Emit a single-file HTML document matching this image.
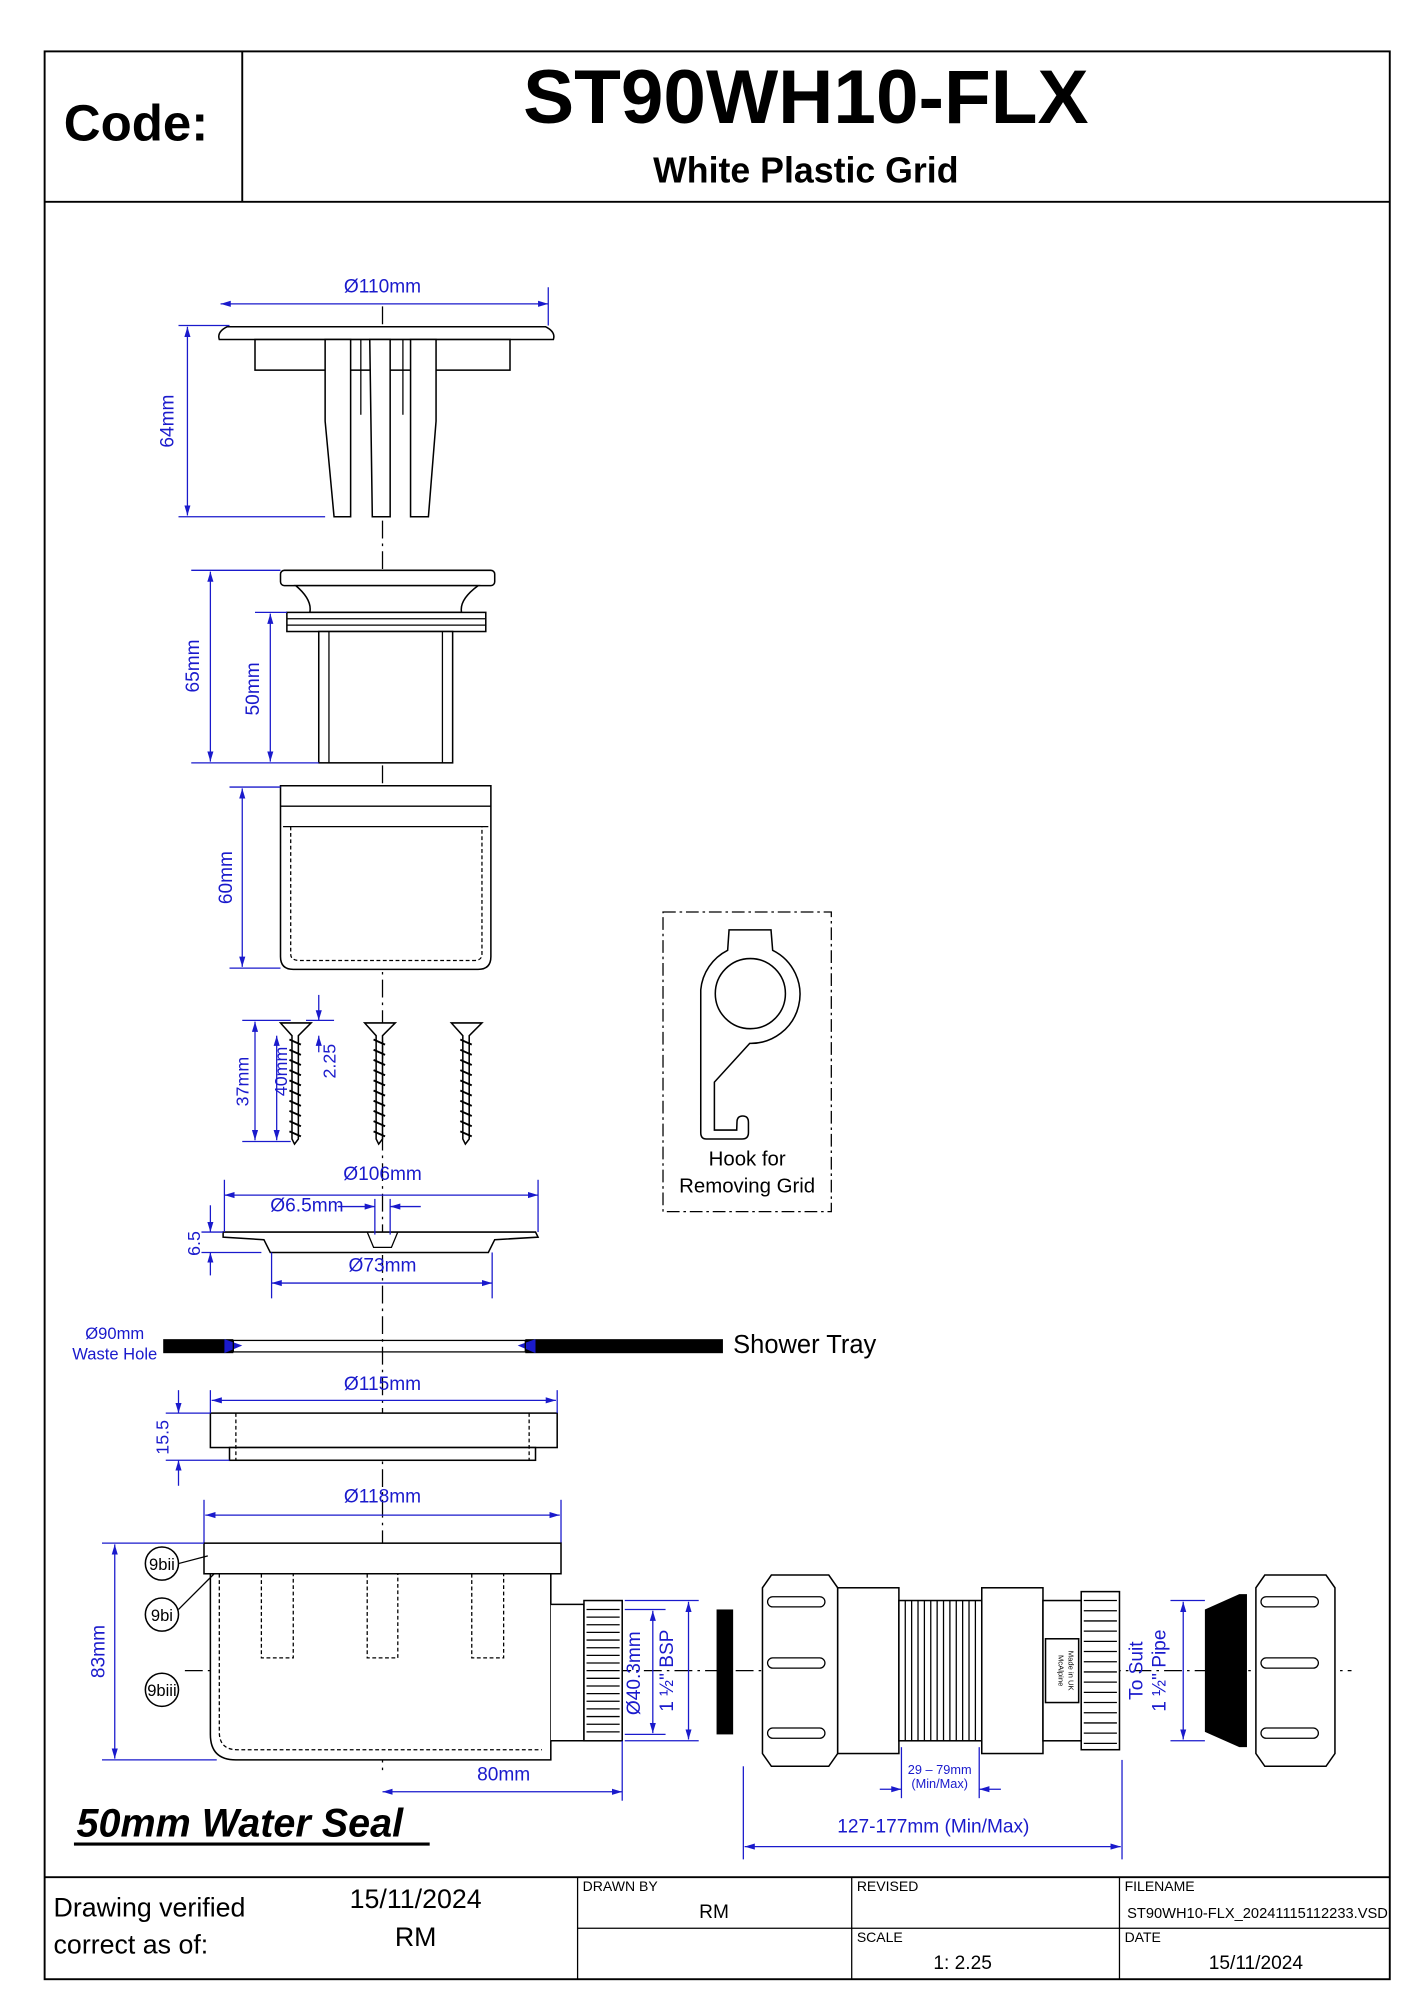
<!DOCTYPE html>
<html><head><meta charset="utf-8"><style>
html,body{margin:0;padding:0;background:#fff}
svg{display:block}
text{font-family:"Liberation Sans",Arial,sans-serif}
.b{fill:#1a1acc}
.dl{stroke:#1a1acc;stroke-width:1;fill:none}
.k{stroke:#000;fill:#fff;stroke-width:1.2}
.kn{stroke:#000;fill:none;stroke-width:1}
</style></head><body>
<svg width="1414" height="2000" viewBox="0 0 1109 1568" xmlns="http://www.w3.org/2000/svg">
<defs>
<marker id="a" viewBox="0 0 10 10" refX="10" refY="5" markerWidth="8" markerHeight="8" orient="auto-start-reverse"><path d="M0,2 L10,5 L0,8 z" fill="#1a1acc"/></marker>
</defs>
<rect x="0" y="0" width="1109" height="1568" fill="#fff"/>
<rect x="35" y="40" width="1055" height="1512" fill="none" stroke="#000" stroke-width="1.5"/>
<line x1="35" y1="158" x2="1090" y2="158" stroke="#000" stroke-width="1.5"/>
<line x1="190" y1="40" x2="190" y2="158" stroke="#000" stroke-width="1.5"/>
<text x="50" y="110" font-size="40" font-weight="bold">Code:</text>
<text x="632" y="96" font-size="60" font-weight="bold" text-anchor="middle">ST90WH10-FLX</text>
<text x="632" y="143" font-size="28" font-weight="bold" text-anchor="middle">White Plastic Grid</text>

<!-- centre line -->
<line x1="300" y1="240" x2="300" y2="1390" stroke="#000" stroke-width="1" stroke-dasharray="14,4,2,4"/>
<line x1="145" y1="1310" x2="1060" y2="1310" stroke="#000" stroke-width="1" stroke-dasharray="14,4,2,4"/>

<!-- grid -->
<path class="k" d="M178,256 L428,256 Q436,260 434,266 L172,266 Q170,260 178,256 z"/>
<rect class="k" x="200" y="266" width="200" height="24"/>
<path class="k" d="M255,266 L275,266 L275,405 L262,405 L255,330 z"/>
<path class="k" d="M290,266 L306,266 L306,405 L292,405 z"/>
<path class="k" d="M322,266 L342,266 L342,330 L336,405 L322,405 z"/>
<line class="kn" x1="283" y1="266" x2="283" y2="325"/><line class="kn" x1="316" y1="266" x2="316" y2="325"/>
<line class="dl" x1="173" y1="238" x2="430" y2="238" marker-start="url(#a)" marker-end="url(#a)"/>
<line class="dl" x1="430" y1="225" x2="430" y2="255"/>
<text class="b" x="300" y="229" font-size="15" text-anchor="middle">Ø110mm</text>
<line class="dl" x1="140" y1="255" x2="180" y2="255"/><line class="dl" x1="140" y1="405" x2="255" y2="405"/>
<line class="dl" x1="147" y1="256" x2="147" y2="404" marker-start="url(#a)" marker-end="url(#a)"/>
<text class="b" font-size="15" transform="translate(136,330) rotate(-90)" text-anchor="middle">64mm</text>

<!-- waste body -->
<rect class="k" x="220" y="447" width="168" height="12" rx="3"/>
<path class="k" d="M232,459 L375,459 Q360,470 362,480 L243,480 Q245,470 232,459 z"/>
<rect class="k" x="225" y="480" width="156" height="15"/>
<line class="kn" x1="225" y1="485" x2="381" y2="485"/><line class="kn" x1="225" y1="490" x2="381" y2="490"/>
<rect class="k" x="250" y="495" width="105" height="103"/>
<line class="kn" x1="258" y1="495" x2="258" y2="598"/><line class="kn" x1="347" y1="495" x2="347" y2="598"/>
<line class="dl" x1="150" y1="447" x2="220" y2="447"/><line class="dl" x1="150" y1="598" x2="250" y2="598"/>
<line class="dl" x1="165" y1="448" x2="165" y2="597" marker-start="url(#a)" marker-end="url(#a)"/>
<text class="b" font-size="15" transform="translate(156,522) rotate(-90)" text-anchor="middle">65mm</text>
<line class="dl" x1="200" y1="480" x2="225" y2="480"/>
<line class="dl" x1="212" y1="481" x2="212" y2="597" marker-start="url(#a)" marker-end="url(#a)"/>
<text class="b" font-size="15" transform="translate(203,540) rotate(-90)" text-anchor="middle">50mm</text>

<!-- sleeve -->
<path class="k" d="M220,616 L385,616 L385,750 Q385,760 375,760 L230,760 Q220,760 220,750 z"/>
<line class="kn" x1="220" y1="632" x2="385" y2="632"/><line class="kn" x1="222" y1="648" x2="383" y2="648"/>
<path class="kn" d="M228,648 L228,748 Q228,753 235,753 L372,753 Q378,753 378,748 L378,648" stroke-dasharray="3,2"/>
<line class="dl" x1="180" y1="617" x2="220" y2="617"/><line class="dl" x1="180" y1="759" x2="220" y2="759"/>
<line class="dl" x1="190" y1="618" x2="190" y2="758" marker-start="url(#a)" marker-end="url(#a)"/>
<text class="b" font-size="15" transform="translate(182,688) rotate(-90)" text-anchor="middle">60mm</text>

<!-- screws -->
<g class="k">
<path d="M220,802 L244,802 L234,812 L234,893 L231,897 L229,893 L229,812 z"/>
<path d="M286,802 L310,802 L300,812 L300,893 L297,897 L295,893 L295,812 z"/>
<path d="M354,802 L378,802 L368,812 L368,893 L365,897 L363,893 L363,812 z"/>
</g>
<g stroke="#000" stroke-width="1.5">
<path d="M227,815 l9,4 m-9,4 l9,4 m-9,4 l9,4 m-9,4 l9,4 m-9,4 l9,4 m-9,4 l9,4 m-9,4 l9,4 m-9,4 l9,4 m-9,4 l9,4 m-9,4 l9,4"/>
<path d="M293,815 l9,4 m-9,4 l9,4 m-9,4 l9,4 m-9,4 l9,4 m-9,4 l9,4 m-9,4 l9,4 m-9,4 l9,4 m-9,4 l9,4 m-9,4 l9,4 m-9,4 l9,4"/>
<path d="M361,815 l9,4 m-9,4 l9,4 m-9,4 l9,4 m-9,4 l9,4 m-9,4 l9,4 m-9,4 l9,4 m-9,4 l9,4 m-9,4 l9,4 m-9,4 l9,4 m-9,4 l9,4"/>
</g>
<line class="dl" x1="190" y1="800" x2="228" y2="800"/><line class="dl" x1="190" y1="895" x2="228" y2="895"/>
<line class="dl" x1="200" y1="801" x2="200" y2="894" marker-start="url(#a)" marker-end="url(#a)"/>
<line class="dl" x1="217" y1="812" x2="217" y2="894" marker-start="url(#a)" marker-end="url(#a)"/>
<text class="b" font-size="14" transform="translate(195,848) rotate(-90)" text-anchor="middle">37mm</text>
<text class="b" font-size="14" transform="translate(225,840) rotate(-90)" text-anchor="middle">40mm</text>
<line class="dl" x1="250" y1="780" x2="250" y2="800" marker-end="url(#a)"/>
<line class="dl" x1="250" y1="825" x2="250" y2="812" marker-end="url(#a)"/>
<line class="dl" x1="240" y1="800" x2="262" y2="800"/>
<text class="b" font-size="14" transform="translate(263,832) rotate(-90)" text-anchor="middle">2.25</text>

<!-- clamp plate -->
<path class="k" d="M175,966 L420,966 L422,970 L388,972 L383,982 L212,982 L207,972 L175,970 z"/>
<path class="kn" d="M288,966 L293,978 L307,978 L312,966"/>
<line class="dl" x1="176" y1="937" x2="422" y2="937" marker-start="url(#a)" marker-end="url(#a)"/>
<line class="dl" x1="176" y1="925" x2="176" y2="966"/><line class="dl" x1="422" y1="925" x2="422" y2="966"/>
<text class="b" x="300" y="925" font-size="15" text-anchor="middle">Ø106mm</text>
<text class="b" x="212" y="950" font-size="15">Ø6.5mm</text>
<line class="dl" x1="265" y1="946" x2="294" y2="946" marker-end="url(#a)"/>
<line class="dl" x1="330" y1="946" x2="306" y2="946" marker-end="url(#a)"/>
<line class="dl" x1="294" y1="940" x2="294" y2="968"/><line class="dl" x1="306" y1="940" x2="306" y2="968"/>
<line class="dl" x1="213" y1="1006" x2="386" y2="1006" marker-start="url(#a)" marker-end="url(#a)"/>
<line class="dl" x1="213" y1="982" x2="213" y2="1018"/><line class="dl" x1="386" y1="982" x2="386" y2="1018"/>
<text class="b" x="300" y="997" font-size="15" text-anchor="middle">Ø73mm</text>
<line class="dl" x1="158" y1="966" x2="175" y2="966"/><line class="dl" x1="158" y1="982" x2="205" y2="982"/>
<line class="dl" x1="165" y1="945" x2="165" y2="966" marker-end="url(#a)"/>
<line class="dl" x1="165" y1="1000" x2="165" y2="982" marker-end="url(#a)"/>
<text class="b" font-size="14" transform="translate(157,975) rotate(-90)" text-anchor="middle">6.5</text>

<!-- shower tray -->
<rect x="128" y="1050" width="55" height="11" fill="#000"/>
<rect x="412" y="1050" width="155" height="11" fill="#000"/>
<path d="M176,1050 L190,1055 L176,1061 z" fill="#1a1acc"/><path d="M420,1050 L406,1055 L420,1061 z" fill="#1a1acc"/>
<rect class="kn" x="183" y="1051" width="229" height="9"/>
<text x="575" y="1061" font-size="20">Shower Tray</text>
<text class="b" x="90" y="1050" font-size="13" text-anchor="middle">Ø90mm</text>
<text class="b" x="90" y="1066" font-size="13" text-anchor="middle">Waste Hole</text>

<!-- ring -->
<rect class="k" x="165" y="1108" width="272" height="27"/>
<rect class="k" x="180" y="1135" width="240" height="10"/>
<line class="kn" x1="185" y1="1108" x2="185" y2="1145" stroke-dasharray="3,2"/><line class="kn" x1="415" y1="1108" x2="415" y2="1145" stroke-dasharray="3,2"/>
<line class="dl" x1="166" y1="1098" x2="436" y2="1098" marker-start="url(#a)" marker-end="url(#a)"/>
<line class="dl" x1="165" y1="1090" x2="165" y2="1108"/><line class="dl" x1="437" y1="1090" x2="437" y2="1108"/>
<text class="b" x="300" y="1090" font-size="15" text-anchor="middle">Ø115mm</text>
<line class="dl" x1="130" y1="1108" x2="165" y2="1108"/><line class="dl" x1="130" y1="1145" x2="180" y2="1145"/>
<line class="dl" x1="140" y1="1090" x2="140" y2="1108" marker-end="url(#a)"/>
<line class="dl" x1="140" y1="1165" x2="140" y2="1145" marker-end="url(#a)"/>
<text class="b" font-size="14" transform="translate(132,1127) rotate(-90)" text-anchor="middle">15.5</text>

<!-- trap body -->
<line class="dl" x1="161" y1="1188" x2="439" y2="1188" marker-start="url(#a)" marker-end="url(#a)"/>
<line class="dl" x1="160" y1="1176" x2="160" y2="1210"/><line class="dl" x1="440" y1="1176" x2="440" y2="1210"/>
<text class="b" x="300" y="1178" font-size="15" text-anchor="middle">Ø118mm</text>
<rect class="k" x="160" y="1210" width="280" height="24"/>
<path class="k" d="M165,1234 L432,1234 L432,1380 L185,1380 Q165,1380 165,1360 z"/>
<path class="kn" stroke-dasharray="3,2" d="M172,1234 L172,1358 Q172,1372 186,1372 L425,1372"/>
<g class="kn" stroke-dasharray="3,2">
<path d="M205,1234 L205,1300 L230,1300 L230,1234"/>
<path d="M288,1234 L288,1300 L312,1300 L312,1234"/>
<path d="M370,1234 L370,1300 L395,1300 L395,1234"/>
</g>
<path class="k" d="M432,1258 L458,1258 L458,1365 L432,1365"/>
<rect class="k" x="458" y="1255" width="30" height="110"/>
<g stroke="#000" stroke-width="1"><path d="M460,1262 h26 m-26,6 h26 m-26,6 h26 m-26,6 h26 m-26,6 h26 m-26,6 h26 m-26,6 h26 m-26,6 h26 m-26,6 h26 m-26,6 h26 m-26,6 h26 m-26,6 h26 m-26,6 h26 m-26,6 h26 m-26,6 h26 m-26,6 h26 m-26,6 h26"/></g>
<line class="dl" x1="80" y1="1210" x2="160" y2="1210"/><line class="dl" x1="80" y1="1380" x2="170" y2="1380"/>
<line class="dl" x1="90" y1="1211" x2="90" y2="1379" marker-start="url(#a)" marker-end="url(#a)"/>
<text class="b" font-size="15" transform="translate(82,1295) rotate(-90)" text-anchor="middle">83mm</text>
<line class="dl" x1="300" y1="1405" x2="488" y2="1405" marker-start="url(#a)" marker-end="url(#a)"/>
<line class="dl" x1="488" y1="1365" x2="488" y2="1412"/>
<text class="b" x="395" y="1396" font-size="15" text-anchor="middle">80mm</text>
<line class="dl" x1="512" y1="1263" x2="512" y2="1359" marker-start="url(#a)" marker-end="url(#a)"/>
<line class="dl" x1="490" y1="1262" x2="522" y2="1262"/><line class="dl" x1="490" y1="1360" x2="522" y2="1360"/>
<text class="b" font-size="15" transform="translate(502,1312) rotate(-90)" text-anchor="middle">Ø40.3mm</text>
<line class="dl" x1="540" y1="1256" x2="540" y2="1364" marker-start="url(#a)" marker-end="url(#a)"/>
<line class="dl" x1="490" y1="1255" x2="548" y2="1255"/><line class="dl" x1="490" y1="1365" x2="548" y2="1365"/>
<text class="b" font-size="15" transform="translate(528,1310) rotate(-90)" text-anchor="middle">1 ½" BSP</text>
<g font-size="13" text-anchor="middle">
<circle cx="127" cy="1226" r="13" class="k"/><text x="127" y="1231">9bii</text>
<circle cx="127" cy="1266" r="13" class="k"/><text x="127" y="1271">9bi</text>
<circle cx="127" cy="1325" r="13" class="k"/><text x="127" y="1330">9biii</text>
</g>
<line class="kn" x1="140" y1="1226" x2="163" y2="1220"/><line class="kn" x1="140" y1="1262" x2="168" y2="1234"/>

<!-- flexible connector -->
<rect x="562" y="1262" width="13" height="98" fill="#000"/>
<path class="k" d="M605,1235 L650,1235 L657,1245 L657,1375 L650,1385 L605,1385 L598,1375 L598,1245 z"/>
<g fill="#fff" stroke="#000"><rect x="602" y="1252" width="45" height="8" rx="4"/><rect x="602" y="1300" width="45" height="8" rx="4"/><rect x="602" y="1355" width="45" height="8" rx="4"/></g>
<rect class="k" x="657" y="1245" width="48" height="130"/>
<rect class="k" x="705" y="1255" width="65" height="110"/>
<g stroke="#000" stroke-width="1"><path d="M710,1255 v110 m5,-110 v110 m5,-110 v110 m5,-110 v110 m5,-110 v110 m5,-110 v110 m5,-110 v110 m5,-110 v110 m5,-110 v110 m5,-110 v110 m5,-110 v110 m5,-110 v110"/></g>
<rect class="k" x="770" y="1245" width="48" height="130"/>
<rect class="k" x="818" y="1255" width="30" height="110"/>
<rect class="k" x="820" y="1285" width="26" height="50"/>
<text font-size="6" transform="translate(830,1310) rotate(90)" text-anchor="middle">McAlpine</text>
<text font-size="6" transform="translate(838,1310) rotate(90)" text-anchor="middle">Made in UK</text>
<rect class="k" x="848" y="1248" width="30" height="124"/>
<g stroke="#000" stroke-width="1"><path d="M850,1255 h26 m-26,8 h26 m-26,8 h26 m-26,8 h26 m-26,8 h26 m-26,8 h26 m-26,8 h26 m-26,8 h26 m-26,8 h26 m-26,8 h26 m-26,8 h26 m-26,8 h26 m-26,8 h26 m-26,8 h26 m-26,8 h26"/></g>
<line class="dl" x1="690" y1="1403" x2="707" y2="1403" marker-end="url(#a)"/>
<line class="dl" x1="785" y1="1403" x2="768" y2="1403" marker-end="url(#a)"/>
<line class="dl" x1="707" y1="1370" x2="707" y2="1410"/><line class="dl" x1="768" y1="1370" x2="768" y2="1410"/>
<text class="b" x="737" y="1391" font-size="10" text-anchor="middle">29 – 79mm</text>
<text class="b" x="737" y="1402" font-size="10" text-anchor="middle">(Min/Max)</text>
<line class="dl" x1="584" y1="1448" x2="879" y2="1448" marker-start="url(#a)" marker-end="url(#a)"/>
<line class="dl" x1="583" y1="1385" x2="583" y2="1458"/><line class="dl" x1="880" y1="1380" x2="880" y2="1458"/>
<text class="b" x="732" y="1437" font-size="15" text-anchor="middle">127-177mm (Min/Max)</text>
<text class="b" font-size="15" transform="translate(896,1310) rotate(-90)" text-anchor="middle">To Suit</text>
<text class="b" font-size="15" transform="translate(914,1310) rotate(-90)" text-anchor="middle">1 ½" Pipe</text>
<line class="dl" x1="928" y1="1256" x2="928" y2="1364" marker-start="url(#a)" marker-end="url(#a)"/>
<line class="dl" x1="918" y1="1255" x2="945" y2="1255"/><line class="dl" x1="918" y1="1365" x2="945" y2="1365"/>
<path d="M945,1262 L972,1250 L978,1250 L978,1370 L972,1370 L945,1358 z" fill="#000"/>
<path class="k" d="M992,1235 L1040,1235 L1047,1245 L1047,1375 L1040,1385 L992,1385 L985,1375 L985,1245 z"/>
<g fill="#fff" stroke="#000"><rect x="989" y="1252" width="45" height="8" rx="4"/><rect x="989" y="1300" width="45" height="8" rx="4"/><rect x="989" y="1355" width="45" height="8" rx="4"/></g>

<!-- hook box -->
<rect x="520" y="715" width="132" height="235" fill="none" stroke="#000" stroke-dasharray="10,3,2,3"/>
<path class="k" d="M571.8,729 L604.7,729 L606,745 A38.5 38.5 0 0 1 588,818 L560.3,848.4 L560.3,886 L577.8,886 L578,880 Q578,875 582.5,875 Q587,875 587,880 L587,888 Q587,893 582,893 L554,893 Q549.6,893 549.6,888 L549.6,776 A38.5 38.5 0 0 1 570.7,745 Z"/>
<circle cx="588.5" cy="779" r="27.5" class="k"/>
<text x="586" y="914" font-size="16" text-anchor="middle">Hook for</text>
<text x="586" y="935" font-size="16" text-anchor="middle">Removing Grid</text>

<text x="60" y="1440" font-size="31" font-weight="bold" font-style="italic">50mm Water Seal</text>
<line x1="58" y1="1446" x2="337" y2="1446" stroke="#000" stroke-width="2.5"/>

<!-- footer -->
<line x1="35" y1="1472" x2="1090" y2="1472" stroke="#000" stroke-width="1.5"/>
<line x1="453" y1="1472" x2="453" y2="1552" stroke="#000"/>
<line x1="668" y1="1472" x2="668" y2="1552" stroke="#000"/>
<line x1="878" y1="1472" x2="878" y2="1552" stroke="#000"/>
<line x1="453" y1="1512" x2="1090" y2="1512" stroke="#000"/>
<text x="42" y="1503" font-size="21">Drawing verified</text>
<text x="42" y="1532" font-size="21">correct as of:</text>
<text x="326" y="1496" font-size="21" text-anchor="middle">15/11/2024</text>
<text x="326" y="1526" font-size="21" text-anchor="middle">RM</text>
<text x="457" y="1483" font-size="11">DRAWN BY</text>
<text x="560" y="1504" font-size="15" text-anchor="middle">RM</text>
<text x="672" y="1483" font-size="11">REVISED</text>
<text x="672" y="1523" font-size="11">SCALE</text>
<text x="755" y="1544" font-size="15" text-anchor="middle">1: 2.25</text>
<text x="882" y="1483" font-size="11">FILENAME</text>
<text x="884" y="1504" font-size="11.5">ST90WH10-FLX_20241115112233.VSD</text>
<text x="882" y="1523" font-size="11">DATE</text>
<text x="985" y="1544" font-size="15" text-anchor="middle">15/11/2024</text>
</svg>
</body></html>
